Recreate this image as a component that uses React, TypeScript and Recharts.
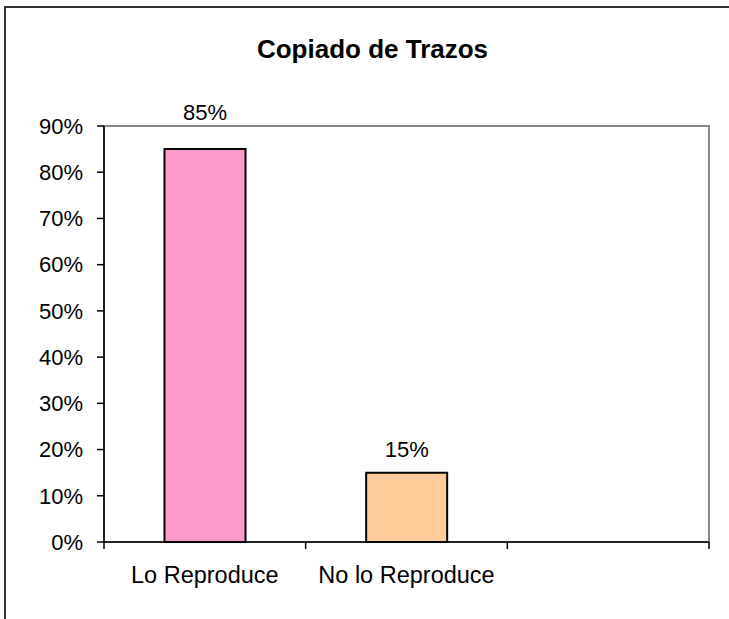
import { BarChart, Bar, XAxis, YAxis, Cell, LabelList, ReferenceArea } from 'recharts';

const categories = ['Lo Reproduce', 'No lo Reproduce', ''];
const values = [85, 15, null];
const yTicks = [0, 10, 20, 30, 40, 50, 60, 70, 80, 90];
const edgeTicks = [0, 1, 2, 3];

const barColors = ['#FF99CC', '#FFCC99', '#FFFFFF'];

const data = categories.map((name, i) => ({ name, value: values[i], edge: i }));

const FONT = '"Liberation Sans", Arial, sans-serif';
const PLOT_TOP = 126;

const ValueLabel = (props: any) => {
  const { x, y, width, value } = props;
  if (value == null) return null;
  // Excel pushes the label above the plot frame when it would cross it
  const baseline = y - 16 - 16 < PLOT_TOP ? PLOT_TOP - 6 : y - 16;
  return (
    <text x={x + width / 2} y={baseline} textAnchor="middle" fontSize={22} fontFamily={FONT} fill="#000">
      {value}%
    </text>
  );
};

const NoLabel = () => <g />;

export default function App() {
  return (
    <div style={{ position: 'absolute', left: 0, top: 0, width: 729, height: 619, overflow: 'hidden', background: '#fff' }}>
      <div style={{ position: 'absolute', left: 4, top: 6, width: 900, height: 900, borderTop: '2px solid #333', borderLeft: '2px solid #333' }} />
      <div style={{
        position: 'absolute', left: 0, top: 36, width: 745, textAlign: 'center',
        fontFamily: FONT, fontWeight: 'bold', fontSize: 26, lineHeight: '26px', color: '#000',
      }}>
        Copiado de Trazos
      </div>
      <BarChart
        width={729}
        height={619}
        data={data}
        margin={{ top: PLOT_TOP, right: 20, left: 0, bottom: 20 }}
        barCategoryGap="30%"
        style={{ position: 'absolute', left: 0, top: 0 }}
      >
        <XAxis
          xAxisId={0}
          type="number"
          dataKey="edge"
          domain={[0, 3]}
          allowDataOverflow
          ticks={edgeTicks}
          height={1}
          tick={NoLabel}
          tickSize={7}
          stroke="#000"
          strokeWidth={1.5}
        />
        <XAxis
          xAxisId={1}
          dataKey="name"
          height={56}
          axisLine={false}
          tickLine={false}
          tickSize={6}
          tickMargin={17}
          tick={{ fontSize: 23.5, fontFamily: FONT, fill: '#000' }}
          interval={0}
        />
        <YAxis
          width={104}
          domain={[0, 90]}
          ticks={yTicks}
          tickFormatter={(v) => `${v}%`}
          tickSize={7}
          tickMargin={14}
          stroke="#000"
          strokeWidth={1.5}
          tick={{ fontSize: 22, fontFamily: FONT, fill: '#000' }}
          interval={0}
        />
        <ReferenceArea xAxisId={0} x1={0} x2={3} y1={0} y2={90} fill="none" stroke="#888" strokeWidth={2} />
        <Bar xAxisId={1} dataKey="value" stroke="#000" strokeWidth={2} isAnimationActive={false}>
          {data.map((d, i) => (
            <Cell key={d.name + i} fill={barColors[i]} />
          ))}
          <LabelList dataKey="value" content={ValueLabel} />
        </Bar>
      </BarChart>
    </div>
  );
}
